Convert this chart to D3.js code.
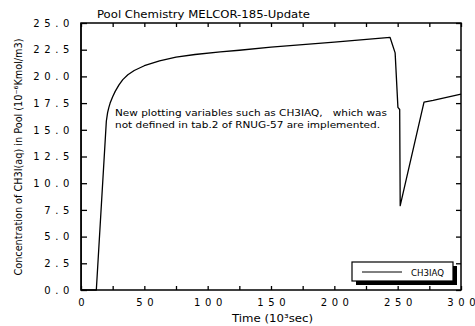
<!DOCTYPE html>
<html>
<head>
<meta charset="utf-8">
<script src="https://cdn.jsdelivr.net/npm/d3@7"></script>
<style>
  body { margin: 0; background: #fff; }
  svg { display: block; }
  text { font-family: "DejaVu Sans", sans-serif; fill: #000; }
</style>
</head>
<body>
<div id="chart"></div>
<script>

// time in 10^3 sec, CH3I(aq) concentration in 10^-6 Kmol/m3
var times  = [0, 0, 0.2, 12.1, 20, 21, 22, 23, 25, 27, 30, 33, 37, 42, 50, 62, 75, 90, 110, 125, 150, 200, 244, 245.5, 248, 250.2, 251.6, 252, 270.8, 278, 300];
var values = [25, 22.7, 0, 0, 15.8, 16.6, 17.1, 17.5, 18.1, 18.6, 19.2, 19.7, 20.15, 20.55, 21.0, 21.45, 21.8, 22.05, 22.3, 22.45, 22.75, 23.2, 23.65, 23.1, 22.2, 17.1, 16.9, 7.9, 17.6, 17.75, 18.35];

var xTicks = [0, 25, 50, 75, 100, 125, 150, 175, 200, 225, 250, 275, 300];
var xLabels = [0, 50, 100, 150, 200, 250, 300];
var yTicks = [0, 2.5, 5, 7.5, 10, 12.5, 15, 17.5, 20, 22.5, 25];

var title = "Pool Chemistry MELCOR-185-Update";
var note = ["New plotting variables such as CH3IAQ,\u00a0\u00a0\u00a0which was",
            "not defined in tab.2 of RNUG-57 are implemented."];
var seriesName = "CH3IAQ";

var width = 475, height = 326;
// plot box (note: "top" clashes with window.top, so use pTop etc.)
var pLeft = 81, pRight = 461, pTop = 23, pBottom = 290;

var svg = d3.select("#chart").append("svg")
    .attr("width", width)
    .attr("height", height);

var x = d3.scaleLinear().domain([0, 300]).range([pLeft, pRight]);
var y = d3.scaleLinear().domain([0, 25]).range([pBottom, pTop]);

// frame
svg.append("rect")
    .attr("x", pLeft).attr("y", pTop)
    .attr("width", pRight - pLeft).attr("height", pBottom - pTop)
    .attr("fill", "none").attr("stroke", "#000").attr("stroke-width", 1.5);

// axes, ticks pointing inward
var yAxis = svg.append("g")
    .attr("transform", "translate(" + pLeft + ",0)")
    .call(d3.axisLeft(y).tickValues(yTicks).tickSize(-6).tickPadding(6)
        .tickFormat(d3.format(".1f")));

svg.append("g")
    .attr("transform", "translate(" + pRight + ",0)")
    .call(d3.axisRight(y).tickValues(yTicks).tickSize(-5).tickFormat(""));

var xAxis = svg.append("g")
    .attr("transform", "translate(0," + pBottom + ")")
    .call(d3.axisBottom(x).tickValues(xTicks).tickSize(-4).tickPadding(9)
        .tickFormat(function (d) { return xLabels.indexOf(d) >= 0 ? d : ""; }));

svg.append("g")
    .attr("transform", "translate(0," + pTop + ")")
    .call(d3.axisTop(x).tickValues(xTicks).tickSize(-4).tickFormat(""));

svg.selectAll(".domain").remove();
svg.selectAll(".tick line").attr("stroke-width", 1.3);

yAxis.selectAll("text")
    .style("font-size", "10px")
    .style("letter-spacing", "4.6px")
    .attr("dx", "-0.1em");

xAxis.selectAll("text")
    .style("font-size", "10px")
    .style("letter-spacing", "4.6px")
    .attr("dx", "2.3px");

// curve
var points = times.map(function (t, i) { return { t: t, v: values[i] }; });
var line = d3.line()
    .x(function (d) { return x(d.t); })
    .y(function (d) { return y(d.v); });

svg.append("path")
    .datum(points)
    .attr("d", line)
    .attr("fill", "none")
    .attr("stroke", "#000")
    .attr("stroke-width", 1.3)
    .attr("stroke-linejoin", "round");

// title
svg.append("text")
    .attr("x", 97).attr("y", 18)
    .attr("textLength", 213).attr("lengthAdjust", "spacingAndGlyphs")
    .style("font-size", "10.5px")
    .text(title);

// note inside plot
svg.append("text")
    .attr("x", 115).attr("y", 116)
    .attr("textLength", 272).attr("lengthAdjust", "spacingAndGlyphs")
    .style("font-size", "9.5px")
    .text(note[0]);
svg.append("text")
    .attr("x", 115).attr("y", 128)
    .attr("textLength", 265).attr("lengthAdjust", "spacingAndGlyphs")
    .style("font-size", "9.5px")
    .text(note[1]);

// axis titles
svg.append("text")
    .attr("x", 232).attr("y", 322)
    .attr("textLength", 81).attr("lengthAdjust", "spacingAndGlyphs")
    .style("font-size", "10px")
    .text("Time (10\u00b3sec)");

svg.append("text")
    .attr("transform", "translate(22,157) rotate(-90)")
    .attr("text-anchor", "middle")
    .attr("textLength", 237).attr("lengthAdjust", "spacingAndGlyphs")
    .style("font-size", "10px")
    .text("Concentration of CH3I(aq) in Pool (10\u207b\u2076Kmol/m3)");

// legend with drop shadow
var legend = svg.append("g").attr("transform", "translate(352,262)");
legend.append("rect")
    .attr("x", 4).attr("y", 4).attr("width", 101).attr("height", 19)
    .attr("fill", "#000");
legend.append("rect")
    .attr("x", 0).attr("y", 0).attr("width", 101).attr("height", 19)
    .attr("fill", "#fff").attr("stroke", "#000").attr("stroke-width", 1.2);
legend.append("line")
    .attr("x1", 10).attr("x2", 50).attr("y1", 10).attr("y2", 10)
    .attr("stroke", "#000").attr("stroke-width", 1);
legend.append("text")
    .attr("x", 59).attr("y", 13.5)
    .attr("textLength", 33).attr("lengthAdjust", "spacingAndGlyphs")
    .style("font-size", "9px")
    .text(seriesName);

</script>
</body>
</html>
